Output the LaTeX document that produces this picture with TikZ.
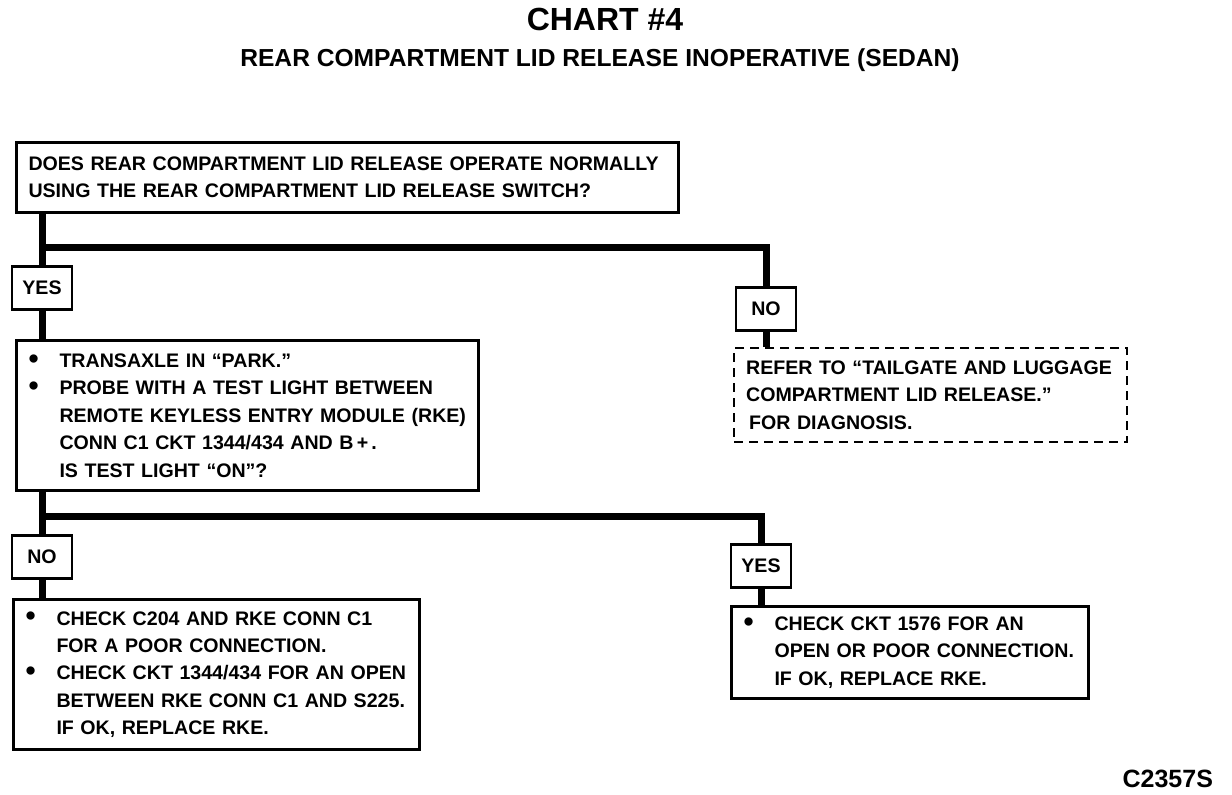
\documentclass[tikz,border=0pt]{standalone}
\usepackage{fontspec}
\setmainfont{Liberation Sans}
\usetikzlibrary{positioning}
\newcommand{\boxfont}{\fontsize{9.8}{13.7}\selectfont\bfseries}
\newcommand{\dotitem}{\makebox[15.5pt][l]{\raisebox{-0.3pt}{\Large\textbullet}}}
\newcommand{\dotgap}{\hspace*{15.5pt}}
\tikzset{
  box/.style={rectangle, draw, line width=1.5pt, align=left, anchor=north west,
              inner xsep=6pt, inner ysep=3pt, font=\boxfont},
  refbox/.style={box, line width=1.1pt, dash pattern=on 4.5pt off 3pt},
  tag/.style={rectangle, draw, line width=1.4pt, fill=white, font=\boxfont,
              minimum width=30pt, minimum height=21.5pt, inner sep=0pt},
  wire/.style={line width=3.5pt, line join=miter},
}

\begin{document}
\begin{tikzpicture}[x=0.5pt, y=-0.5pt]
  \useasboundingbox (0,0) rectangle (1232,794);

  \node[anchor=base, font=\fontsize{16}{19}\selectfont\bfseries] (chart) at (605,30) {CHART \#4};
  \node[anchor=base, font=\fontsize{12.3}{15}\selectfont\bfseries] (topic) at (600,66)
    {REAR COMPARTMENT LID RELEASE INOPERATIVE (SEDAN)};

  \node[box, text width=319pt, minimum height=35pt] (ask) at (15,141)
    {DOES REAR COMPARTMENT LID RELEASE OPERATE NORMALLY\\
     USING THE REAR COMPARTMENT LID RELEASE SWITCH?};
  \node[tag] (yes1) at (42,288) {YES};
  \node[tag] (no1) at (766,309) {NO};

  \node[box, text width=219pt, minimum height=75pt] (probe) at (15,339)
    {\dotitem TRANSAXLE IN ``PARK.''\\
     \dotitem PROBE WITH A TEST LIGHT BETWEEN\\
     \dotgap REMOTE KEYLESS ENTRY MODULE (RKE)\\
     \dotgap CONN C1 CKT 1344/434 AND B\,+\,.\\
     \dotgap IS TEST LIGHT ``ON''?};
  \node[refbox, text width=184.5pt, minimum height=47pt] (refer) at (733,347)
    {REFER TO ``TAILGATE AND LUGGAGE\\
     COMPARTMENT LID RELEASE.''\\
     \hspace*{1.5pt}FOR DIAGNOSIS.};

  \node[tag] (no2) at (42,557) {NO};
  \node[tag] (yes2) at (761,566) {YES};

  \node[box, text width=191pt, minimum height=75pt] (fixa) at (12,598)
    {\dotitem CHECK C204 AND RKE CONN C1\\
     \dotgap FOR A POOR CONNECTION.\\
     \dotitem CHECK CKT 1344/434 FOR AN OPEN\\
     \dotgap BETWEEN RKE CONN C1 AND S225.\\
     \dotgap IF OK, REPLACE RKE.};
  \node[box, text width=166.5pt, minimum height=46pt] (fixb) at (730,605)
    {\dotitem CHECK CKT 1576 FOR AN\\
     \dotgap OPEN OR POOR CONNECTION.\\
     \dotgap IF OK, REPLACE RKE.};

  \node[anchor=base east, font=\fontsize{12.5}{15}\selectfont\bfseries] (code) at (1220,787) {C2357S};

  % connectors
  \coordinate (fork1) at (42,247);
  \coordinate (fork2) at (42,516);
  \draw[wire] (ask.south -| yes1) -- (yes1.north);
  \draw[wire] (yes1.south) -- (probe.north -| yes1);
  \draw[wire] (fork1) -| (no1.north);
  \draw[wire] (no1.south) -- (refer.north -| no1);
  \draw[wire] (probe.south -| no2) -- (no2.north);
  \draw[wire] (no2.south) -- (fixa.north -| no2);
  \draw[wire] (fork2) -| (yes2.north);
  \draw[wire] (yes2.south) -- (fixb.north -| yes2);
\end{tikzpicture}
\end{document}
